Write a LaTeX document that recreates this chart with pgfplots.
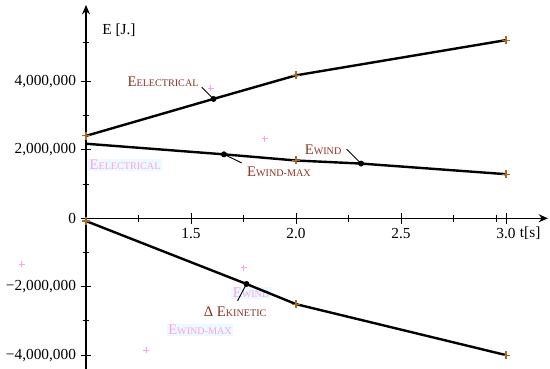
\documentclass[border=0pt]{standalone}
\usepackage{fontspec}
\setmainfont{Liberation Serif}
\usepackage{pgfplots}
\pgfplotsset{compat=1.18}
\usetikzlibrary{arrows.meta}
\definecolor{lab}{RGB}{140,50,40}
\definecolor{mk}{RGB}{165,105,40}
\definecolor{ghost}{RGB}{255,160,235}
\definecolor{ghostbg}{RGB}{235,250,255}

\newcommand{\E}[1]{{\fontsize{11}{12}\selectfont E}{\fontsize{7.6}{9}\selectfont #1}}

\begin{document}
\begin{tikzpicture}
\begin{axis}[
    scale only axis,
    width=346.5pt, height=273pt,
    xmin=1, xmax=3.2,
    ymin=-4.406e6, ymax=6.237e6,
    axis x line=middle, axis y line=left,
    hide obscured x ticks=false, hide obscured y ticks=false,
    axis line style={line width=0.9pt, -{Stealth[length=7pt,width=6pt]}},
    tick align=center,
    major tick length=8pt, minor tick length=5pt,
    tick style={line width=0.7pt, black},
    xtick={1.5,2,2.5,3}, xticklabels={1.5,2.0,2.5,3.0},
    minor xtick={1.25,1.75,2.25,2.75,2.955},
    ytick={-4e6,-2e6,0,2e6,4e6},
    yticklabels={{−4,000,000},{−2,000,000},0,{2,000,000},{4,000,000}},
    minor ytick={-3e6,-1e6,1e6,3e6,5.15e6},
    tick label style={font=\fontsize{11.5}{13}\selectfont},
    clip=false,
]
% ghost labels
\node[text=ghost, fill=ghostbg, inner sep=1pt] at (axis cs:1.186,1.56e6) {\E{ELECTRICAL}};
\node[text=ghost, fill=ghostbg, inner sep=1pt] at (axis cs:1.786,-2.18e6) {\E{WIND}};
\node[text=ghost, fill=ghostbg, inner sep=1pt] at (axis cs:1.543,-3.27e6) {\E{WIND-MAX}};
\addplot[only marks, mark=+, mark size=2.5pt, ghost, line width=0.7pt]
  coordinates {(0.695,-1.34e6)(1.286,-3.85e6)(1.595,3.81e6)(1.852,2.32e6)(1.752,-1.45e6)};

% series
\addplot[black, line width=1.8pt] coordinates {(1,2.41e6)(1.607,3.49e6)(2,4.18e6)(3,5.21e6)};
\addplot[black, line width=1.8pt] coordinates {(1,2.18e6)(1.657,1.87e6)(2,1.69e6)(2.31,1.6e6)(3,1.29e6)};
\addplot[black, line width=1.8pt] coordinates {(1,-0.08e6)(1.764,-1.92e6)(2,-2.51e6)(3,-4.0e6)};

\addplot[only marks, mark=*, mark size=2pt, black]
  coordinates {(1.607,3.49e6)(1.657,1.87e6)(2.31,1.6e6)(1.764,-1.92e6)};
\addplot[only marks, mark=+, mark size=3pt, mk, line width=0.9pt]
  coordinates {(1,2.41e6)(2,4.18e6)(3,5.21e6)(2,1.69e6)(3,1.29e6)(1,-0.08e6)(2,-2.51e6)(3,-4.0e6)};

% leaders and labels
\draw[line width=0.7pt] (axis cs:1.551,3.83e6) -- (axis cs:1.607,3.49e6);
\draw[line width=0.7pt] (axis cs:1.741,1.62e6) -- (axis cs:1.657,1.87e6);
\draw[line width=0.7pt] (axis cs:2.241,2.02e6) -- (axis cs:2.31,1.6e6);
\draw[line width=0.7pt] (axis cs:1.722,-2.41e6) -- (axis cs:1.764,-1.92e6);
\node[text=lab] at (axis cs:1.367,3.99e6) {\E{ELECTRICAL}};
\node[text=lab] at (axis cs:1.919,1.36e6) {\E{WIND-MAX}};
\node[text=lab] at (axis cs:2.129,2.0e6) {\E{WIND}};
\node[text=lab] at (axis cs:1.71,-2.73e6) {{\fontsize{11}{12}\selectfont Δ }\E{KINETIC}};

\node[font=\fontsize{11.5}{13}\selectfont] at (axis cs:1.157,5.5e6) {E [J.]};
\node[font=\fontsize{11.5}{13}\selectfont] at (axis cs:3.115,-0.43e6) {t[s]};

\coordinate (bbl) at (axis cs:0.5905,-4.406e6);
\coordinate (btr) at (axis cs:3.2095,6.383e6);
\end{axis}
\pgfresetboundingbox
\useasboundingbox (bbl) rectangle (btr);
\end{tikzpicture}
\end{document}
